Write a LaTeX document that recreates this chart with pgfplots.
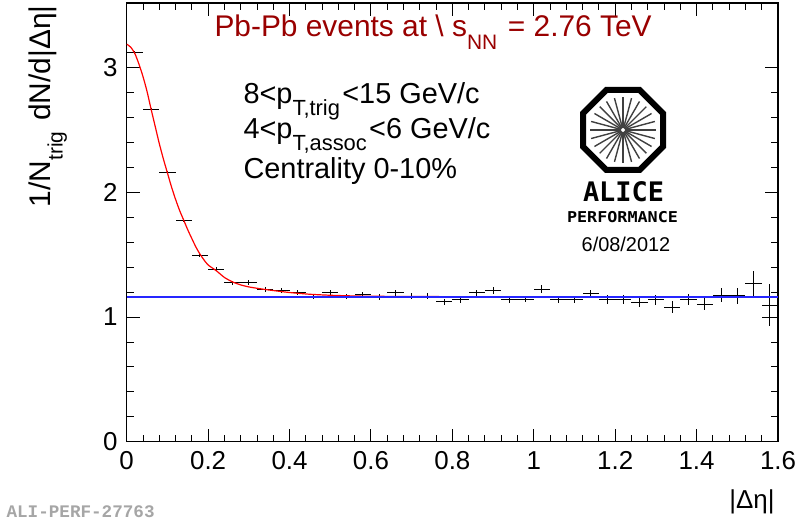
\documentclass[border=0pt]{standalone}
\usepackage{fontspec}
\setmainfont{Liberation Sans}
\newfontfamily\monofont{Liberation Mono}
\newfontfamily\logofont{DejaVu Sans Mono}
\usepackage{pgfplots}
\usepackage{pgfplotstable}
\pgfplotsset{compat=1.18}
\definecolor{titlered}{RGB}{153,0,0}
\newcommand\fs[1]{\fontsize{#1}{#1}\selectfont}
\newcommand\sub[2][20]{\raisebox{-0.42em}{\fontsize{#1}{#1}\selectfont #2}\hspace{0.08em}}

\pgfplotstableread{
x     y      ex    ey
0.02  3.120  0.02  0.012
0.06  2.667  0.02  0.012
0.10  2.157  0.02  0.012
0.14  1.778  0.02  0.012
0.18  1.497  0.02  0.012
0.22  1.385  0.02  0.015
0.26  1.275  0.02  0.015
0.30  1.280  0.02  0.020
0.34  1.222  0.02  0.020
0.38  1.210  0.02  0.020
0.42  1.199  0.02  0.020
0.46  1.167  0.02  0.020
0.50  1.197  0.02  0.020
0.54  1.168  0.02  0.020
0.58  1.178  0.02  0.022
0.62  1.160  0.02  0.022
0.66  1.195  0.02  0.022
0.70  1.168  0.02  0.022
0.74  1.166  0.02  0.025
0.78  1.123  0.02  0.025
0.82  1.140  0.02  0.025
0.86  1.195  0.02  0.025
0.90  1.211  0.02  0.027
0.94  1.137  0.02  0.027
0.98  1.144  0.02  0.027
1.02  1.224  0.02  0.030
1.06  1.140  0.02  0.030
1.10  1.142  0.02  0.030
1.14  1.190  0.02  0.030
1.18  1.140  0.02  0.035
1.22  1.140  0.02  0.035
1.26  1.118  0.02  0.040
1.30  1.137  0.02  0.040
1.34  1.080  0.02  0.045
1.38  1.144  0.02  0.045
1.42  1.103  0.02  0.050
1.46  1.176  0.02  0.055
1.50  1.170  0.02  0.065
1.54  1.270  0.02  0.100
1.58  1.096  0.02  0.170
1.58  1.000  0.02  0.065
}\datatable

\pgfplotstableread{
x     y
0.000 3.190
0.010 3.165
0.020 3.115
0.030 3.030
0.040 2.930
0.050 2.810
0.060 2.667
0.070 2.530
0.080 2.393
0.090 2.270
0.100 2.157
0.110 2.045
0.120 1.945
0.130 1.855
0.140 1.778
0.150 1.700
0.160 1.630
0.170 1.562
0.180 1.505
0.190 1.458
0.200 1.418
0.220 1.372
0.240 1.318
0.260 1.282
0.280 1.258
0.300 1.242
0.320 1.231
0.350 1.217
0.400 1.197
0.450 1.183
0.500 1.175
0.550 1.170
0.600 1.167
0.700 1.165
0.800 1.164
1.000 1.164
1.600 1.164
}\fittable

\begin{document}
\begin{tikzpicture}
\useasboundingbox (0,0) rectangle (795bp,529bp);
\begin{axis}[
  at={(126.7bp,87.3bp)}, anchor=south west,
  scale only axis, width=651.3bp, height=438.7bp,
  xmin=0, xmax=1.6, ymin=0, ymax=3.52,
  xtick={0,0.2,0.4,0.6,0.8,1,1.2,1.4,1.6},
  ytick={0,1,2,3},
  minor x tick num=4, minor y tick num=4,
  major tick length=13bp, minor tick length=7bp,
  tick align=inside,
  tick style={black, line width=0.9bp},
  axis line style={black, line width=1.1bp},
  /pgf/number format/assume math mode=true,
  tick label style={font=\fs{26}},
  xticklabel style={anchor=north, inner sep=0pt, yshift=-10bp},
  yticklabel style={anchor=east, inner sep=0pt, xshift=-9bp},
]
\addplot[draw=none, mark=none,
  error bars/.cd, x dir=both, x explicit, y dir=both, y explicit,
  error mark=none, error bar style={draw=black, line width=1bp}]
  table[x=x, y=y, x error=ex, y error=ey] {\datatable};
\addplot[red, line width=1.2bp, smooth, tension=0.4] table[x=x, y=y] {\fittable};
\addplot[blue!85!white, line width=1.3bp] coordinates {(0,1.162) (1.6,1.162)};
\end{axis}

\node[anchor=base west, text=titlered, font=\fs{30}] at (211bp,492bp)
  {Pb-Pb events at \textbackslash\ s\sub[21]{NN} = 2.76 TeV};
\node[anchor=base west, font=\fs{29}] at (240bp,425.7bp) {8<p\sub[22]{T,trig}<15 GeV/c};
\node[anchor=base west, font=\fs{29}] at (240bp,390.7bp) {4<p\sub[22]{T,assoc}<6 GeV/c};
\node[anchor=base west, font=\fs{29}] at (240bp,350.7bp) {Centrality 0-10\%};

\begin{scope}[shift={(623bp,399bp)}]
  \foreach \a in {0,15,...,345} \draw[black!75, line width=1.4bp] (\a:2bp) -- (\a:33bp);
  \draw[line width=6bp, line join=miter] (22.5:43.3bp) -- (67.5:43.3bp) -- (112.5:43.3bp)
    -- (157.5:43.3bp) -- (202.5:43.3bp) -- (247.5:43.3bp) -- (292.5:43.3bp)
    -- (337.5:43.3bp) -- cycle;
\end{scope}
\node[anchor=base, font=\logofont\bfseries\fs{27}] at (623.5bp,327bp) {ALICE};
\node[anchor=base, font=\logofont\bfseries\fs{15}, xscale=1.12] at (622.5bp,306bp) {PERFORMANCE};
\node[anchor=base, font=\fs{20}] at (626bp,277bp) {6/08/2012};

\node[anchor=base west, font=\monofont\bfseries\fs{17.7}, text=black!35] at (3bp,12bp) {ALI-PERF-27763};
\node[anchor=base east, font=\fs{26}] at (778bp,21bp) {|Δη|};
\node[rotate=90, anchor=base east, font=\fs{30}] at (50bp,527bp) {1/N\sub[21]{trig} dN/d|Δη|};
\end{tikzpicture}
\end{document}
